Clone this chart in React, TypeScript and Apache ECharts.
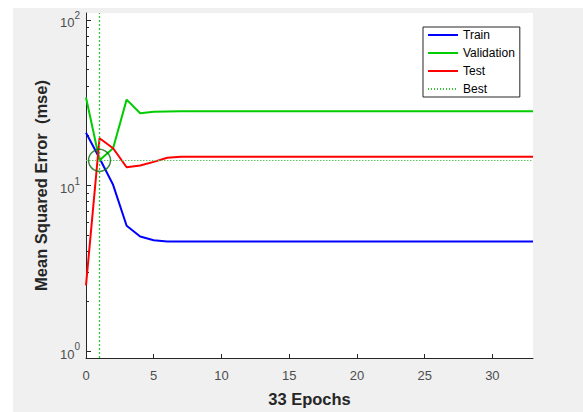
import React, { useEffect, useRef } from "react";
import * as echarts from "echarts";

const epochs = [0, 1, 2, 3, 4, 5, 6, 7, 8, 9, 10, 11, 12, 13, 14, 15, 16, 17, 18, 19, 20, 21, 22, 23, 24, 25, 26, 27, 28, 29, 30, 31, 32, 33];
const trainMse = [20.8, 14.6, 10.1, 5.72, 4.92, 4.68, 4.6, 4.6, 4.6, 4.6, 4.6, 4.6, 4.6, 4.6, 4.6, 4.6, 4.6, 4.6, 4.6, 4.6, 4.6, 4.6, 4.6, 4.6, 4.6, 4.6, 4.6, 4.6, 4.6, 4.6, 4.6, 4.6, 4.6, 4.6];
const validationMse = [34.0, 14.2, 16.8, 33.0, 27.3, 27.9, 28.0, 28.1, 28.1, 28.1, 28.1, 28.1, 28.1, 28.1, 28.1, 28.1, 28.1, 28.1, 28.1, 28.1, 28.1, 28.1, 28.1, 28.1, 28.1, 28.1, 28.1, 28.1, 28.1, 28.1, 28.1, 28.1, 28.1, 28.1];
const testMse = [2.5, 19.3, 16.8, 12.9, 13.2, 13.9, 14.7, 14.9, 14.9, 14.9, 14.9, 14.9, 14.9, 14.9, 14.9, 14.9, 14.9, 14.9, 14.9, 14.9, 14.9, 14.9, 14.9, 14.9, 14.9, 14.9, 14.9, 14.9, 14.9, 14.9, 14.9, 14.9, 14.9, 14.9];
const bestEpoch = 1;
const bestPerf = 14.2;
const xTicks = [0, 5, 10, 15, 20, 25, 30];
const yMajorTicks = [1, 10, 100];
const yMinorTicks = [2, 3, 4, 5, 6, 7, 8, 9, 20, 30, 40, 50, 60, 70, 80, 90];
const legendNames = ["Train", "Validation", "Test", "Best"];

const FONT = "'Liberation Sans', Arial, Helvetica, sans-serif";
const AX = "#262626";
const LBL = "#4d4d4d";
const BEST = "#33c433";

export default function App() {
  const ref = useRef<HTMLDivElement>(null);
  useEffect(() => {
    const chart = echarts.init(ref.current!, null, { renderer: "svg" });
    const pairs = (arr: number[]) => epochs.map((e, i) => [e, arr[i]]);
    const bestV = { type: [2, 2], width: 1.3, color: BEST, opacity: 1 };
    const bestH = { type: [1.5, 1.5], width: 1, color: "#5cc85c", opacity: 1 };
    chart.setOption({
      animation: false,
      backgroundColor: "#f0f0f0",
      textStyle: { fontFamily: FONT },
      graphic: [
        { type: "rect", shape: { x: 0, y: 0, width: 583, height: 8 }, style: { fill: "#ffffff" }, silent: true },
        { type: "rect", shape: { x: 0, y: 0, width: 13, height: 412 }, style: { fill: "#ffffff" }, silent: true },
      ],
      grid: { left: 86, right: 50, top: 13, bottom: 44, show: true, backgroundColor: "#ffffff", borderWidth: 0 },
      legend: {
        data: legendNames,
        orient: "vertical",
        left: 423,
        top: 27,
        padding: [2, 5, 2, 4],
        itemWidth: 30,
        itemHeight: 14,
        itemGap: 6,
        borderColor: AX,
        borderWidth: 1,
        borderRadius: 0,
        backgroundColor: "#ffffff",
        itemStyle: { opacity: 0 },
        textStyle: { fontSize: 12, color: "#000", fontFamily: FONT },
      },
      xAxis: {
        type: "value",
        min: 0,
        max: 33,
        interval: 5,
        name: "33 Epochs",
        nameLocation: "middle",
        nameGap: 32,
        nameTextStyle: { fontWeight: "bold", fontSize: 16.5, color: AX, fontFamily: FONT },
        axisLine: { lineStyle: { color: AX, width: 1 } },
        axisTick: { inside: true, length: 4, customValues: xTicks, lineStyle: { color: AX } },
        axisLabel: { customValues: xTicks, fontSize: 13, color: LBL, margin: 11, fontFamily: FONT },
        splitLine: { show: false },
      },
      yAxis: [
        {
          type: "log",
          logBase: 10,
          min: 0.91,
          max: 110,
          name: "Mean Squared Error  (mse)",
          nameLocation: "middle",
          nameGap: 30,
          nameTextStyle: { fontWeight: "bold", fontSize: 16.5, color: AX, fontFamily: FONT },
          axisLine: { show: true, lineStyle: { color: AX, width: 1 } },
          axisTick: { show: true, inside: true, length: 5, customValues: yMajorTicks, lineStyle: { color: AX } },
          axisLabel: {
            customValues: yMajorTicks,
            margin: 6,
            formatter: (v: number) => `{b|10}{s|${Math.round(Math.log10(v))}}`,
            rich: {
              b: { fontSize: 13, color: LBL, fontFamily: FONT, lineHeight: 19, verticalAlign: "bottom" },
              s: { fontSize: 10, color: LBL, fontFamily: FONT, lineHeight: 10, verticalAlign: "top" },
            },
          },
          splitLine: { show: false },
        },
        {
          type: "log",
          logBase: 10,
          min: 0.91,
          max: 110,
          position: "left",
          axisLine: { show: false, onZero: false },
          axisTick: { show: true, inside: true, length: 3, customValues: yMinorTicks, lineStyle: { color: AX } },
          axisLabel: { show: false },
          splitLine: { show: false },
        },
      ],
      series: [
        { name: "Train", type: "line", data: pairs(trainMse), symbol: "none", color: "#0000ff", lineStyle: { width: 2 } },
        { name: "Validation", type: "line", data: pairs(validationMse), symbol: "none", color: "#00cc00", lineStyle: { width: 2 } },
        { name: "Test", type: "line", data: pairs(testMse), symbol: "none", color: "#ff0000", lineStyle: { width: 2 } },
        {
          name: "Best",
          type: "line",
          data: [],
          symbol: "none",
          color: BEST,
          lineStyle: { type: [1, 2], width: 1, color: BEST },
          z: 1,
          markLine: {
            silent: true,
            symbol: "none",
            label: { show: false },
            emphasis: { disabled: true },
            lineStyle: bestV,
            data: [
              { xAxis: bestEpoch, lineStyle: bestV },
              { yAxis: bestPerf, lineStyle: bestH },
            ],
          },
        },
        {
          name: "BestPoint",
          type: "scatter",
          data: [[bestEpoch, bestPerf]],
          symbol: "circle",
          symbolSize: 22,
          itemStyle: { color: "rgba(0,0,0,0)", borderColor: "#0b6e0b", borderWidth: 1.5 },
          z: 5,
        },
      ],
    });
    return () => chart.dispose();
  }, []);
  return <div ref={ref} style={{ position: "fixed", left: 0, top: 0, width: 583, height: 412 }} />;
}
